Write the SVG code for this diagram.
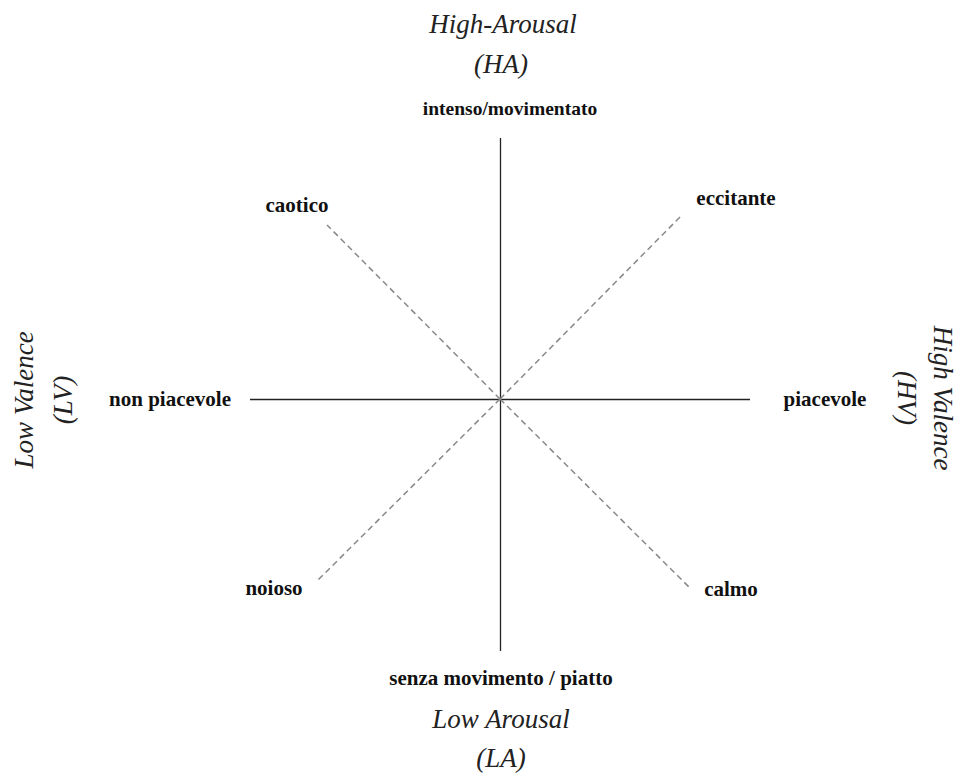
<svg xmlns="http://www.w3.org/2000/svg" width="959" height="776" viewBox="0 0 959 776">
<style>
.axis{stroke:#222;stroke-width:1.3;fill:none}
.diag{stroke:#888;stroke-width:1.5;stroke-dasharray:6 4;fill:none}
.lbl{font-family:"Liberation Serif","Times New Roman",serif;font-weight:bold;font-size:21px;fill:#111;text-anchor:middle}
.pole{font-family:"Liberation Serif","Times New Roman",serif;font-style:italic;font-size:27px;fill:#222;text-anchor:middle}
</style>
<rect width="959" height="776" fill="#fff"/>
<g id="connectors">
<line class="axis" x1="500.5" y1="138" x2="500.5" y2="651"/>
<line class="axis" x1="250" y1="399.5" x2="750" y2="399.5"/>
<line class="diag" x1="500" y1="399" x2="327" y2="225"/>
<line class="diag" x1="500" y1="399" x2="682" y2="215"/>
<line class="diag" x1="500" y1="399" x2="318" y2="580"/>
<line class="diag" x1="500" y1="399" x2="690" y2="588"/>
</g>
<g id="pole-HA"><text class="pole" x="503" y="33">High-Arousal</text><text class="pole" x="501" y="73">(HA)</text></g>
<g id="pole-LA"><text class="pole" x="501" y="728">Low Arousal</text><text class="pole" x="501" y="767">(LA)</text></g>
<g id="pole-LV"><text class="pole" transform="translate(33,400) rotate(-90)">Low Valence</text><text class="pole" transform="translate(72,400) rotate(-90)">(LV)</text></g>
<g id="pole-HV"><text class="pole" transform="translate(934,398) rotate(90)">High Valence</text><text class="pole" transform="translate(898,398) rotate(90)">(HV)</text></g>
<g id="node-intenso"><text class="lbl" x="510" y="115" style="font-size:19.5px">intenso/movimentato</text></g>
<g id="node-caotico"><text class="lbl" x="297" y="212">caotico</text></g>
<g id="node-eccitante"><text class="lbl" x="736" y="205">eccitante</text></g>
<g id="node-nonpiacevole"><text class="lbl" x="170" y="406">non piacevole</text></g>
<g id="node-piacevole"><text class="lbl" x="825" y="406">piacevole</text></g>
<g id="node-noioso"><text class="lbl" x="274" y="595">noioso</text></g>
<g id="node-calmo"><text class="lbl" x="731" y="596">calmo</text></g>
<g id="node-senza"><text class="lbl" x="501" y="685">senza movimento / piatto</text></g>
</svg>
